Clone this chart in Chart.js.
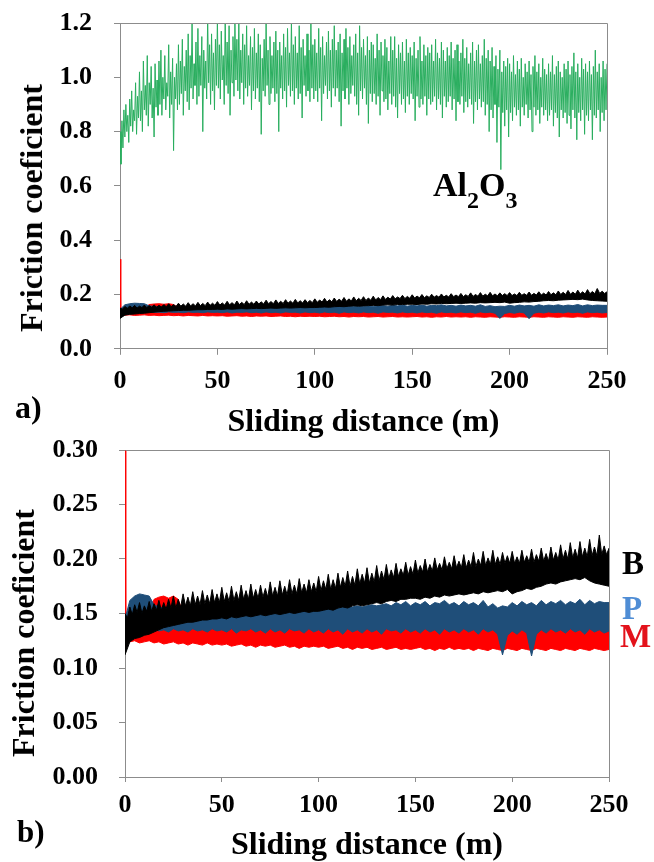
<!DOCTYPE html>
<html>
<head>
<meta charset="utf-8">
<script src="https://cdn.jsdelivr.net/npm/chart.js@4.4.1/dist/chart.umd.min.js"></script>
<style>
html,body{margin:0;padding:0;background:#fff;overflow:hidden;}
body{width:654px;height:862px;position:relative;font-family:"Liberation Serif","Times New Roman",serif;font-weight:bold;color:#000;}
canvas{position:absolute;left:0;}
#chartA{top:0;}
#chartB{top:430px;}
.lbl{position:absolute;line-height:1;white-space:nowrap;}
.ytitle{position:absolute;font-size:32px;line-height:1;white-space:nowrap;transform:translate(-50%,-50%) rotate(-90deg);}
</style>
</head>
<body>
<canvas id="chartA" width="654" height="442"></canvas>
<canvas id="chartB" width="654" height="450"></canvas>

<div class="ytitle" style="left:31px;top:208px;">Friction coeficient</div>
<div class="ytitle" style="left:23px;top:633px;">Friction coeficient</div>
<div class="lbl" style="left:15px;top:391px;font-size:32px;">a)</div>
<div class="lbl" style="left:17px;top:816px;font-size:31px;">b)</div>
<div class="lbl" style="left:433px;top:168px;font-size:34px;">Al<span style="font-size:24px;position:relative;top:12px;">2</span>O<span style="font-size:24px;position:relative;top:12px;">3</span></div>
<div class="lbl" style="left:622px;top:547px;font-size:33px;color:#000;">B</div>
<div class="lbl" style="left:622px;top:592px;font-size:33px;color:#4f8dd5;">P</div>
<div class="lbl" style="left:620px;top:620px;font-size:33px;color:#e3121b;">M</div>

<script>
// sliding distance sampling
const bandStep = 2.5;    // m, for the band edges
const blackTopStep = 1.25; // m, finer for the spiky top of B
const greenStep = 0.5;   // m, for the Al2O3 trace

// B sample (black) – upper edge (one row = 25 m) and lower edge of the band
const blackUpper = [
  0.150,0.146,0.156,0.149,0.158,0.151,0.160,0.150,0.157,0.152,0.161,0.152,0.159,0.153,0.162,0.153,0.160,0.154,0.163,0.155,
  0.166,0.155,0.163,0.156,0.168,0.157,0.165,0.157,0.170,0.158,0.166,0.158,0.171,0.159,0.167,0.159,0.172,0.160,0.168,0.160,
  0.174,0.161,0.169,0.161,0.175,0.162,0.170,0.162,0.176,0.163,0.171,0.163,0.177,0.164,0.172,0.164,0.176,0.165,0.173,0.165,
  0.179,0.166,0.174,0.166,0.180,0.167,0.175,0.167,0.181,0.168,0.176,0.168,0.182,0.169,0.177,0.169,0.181,0.170,0.178,0.170,
  0.184,0.171,0.180,0.172,0.186,0.172,0.181,0.173,0.187,0.174,0.183,0.175,0.189,0.175,0.184,0.176,0.191,0.177,0.186,0.178,
  0.192,0.178,0.187,0.179,0.194,0.180,0.189,0.181,0.195,0.182,0.190,0.183,0.196,0.184,0.191,0.185,0.197,0.185,0.193,0.186,
  0.199,0.187,0.194,0.188,0.200,0.188,0.195,0.189,0.201,0.190,0.196,0.190,0.202,0.191,0.197,0.191,0.203,0.192,0.198,0.192,
  0.204,0.192,0.199,0.193,0.206,0.193,0.200,0.194,0.207,0.194,0.201,0.195,0.208,0.195,0.202,0.195,0.206,0.196,0.203,0.196,
  0.207,0.196,0.202,0.196,0.208,0.197,0.203,0.197,0.209,0.197,0.204,0.198,0.210,0.198,0.205,0.198,0.211,0.199,0.206,0.199,
  0.213,0.200,0.208,0.200,0.215,0.201,0.209,0.201,0.216,0.202,0.210,0.202,0.218,0.203,0.211,0.203,0.222,0.204,0.212,0.204,
  0.210];
const blackLower = [0.112,0.124,0.127,0.128,0.130,0.131,0.133,0.135,0.137,0.138,
  0.139,0.140,0.141,0.142,0.142,0.143,0.144,0.144,0.145,0.145,
  0.146,0.145,0.147,0.146,0.147,0.148,0.147,0.148,0.149,0.148,
  0.149,0.150,0.149,0.150,0.151,0.150,0.151,0.152,0.151,0.152,
  0.152,0.153,0.154,0.153,0.155,0.156,0.155,0.157,0.158,0.157,
  0.158,0.159,0.160,0.159,0.161,0.162,0.161,0.163,0.163,0.164,
  0.164,0.163,0.165,0.164,0.166,0.165,0.167,0.166,0.167,0.168,
  0.167,0.168,0.169,0.168,0.170,0.169,0.170,0.171,0.170,0.172,
  0.168,0.170,0.171,0.173,0.172,0.174,0.175,0.177,0.178,0.177,
  0.179,0.180,0.181,0.182,0.181,0.183,0.180,0.178,0.177,0.176,
  0.175];

// P sample (blue)
const blueUpper = [0.145,0.162,0.166,0.168,0.167,0.166,0.158,0.156,0.155,0.154,
  0.154,0.153,0.153,0.152,0.152,0.151,0.152,0.151,0.152,0.151,
  0.152,0.151,0.152,0.151,0.152,0.152,0.151,0.152,0.153,0.152,
  0.153,0.152,0.153,0.154,0.153,0.154,0.153,0.154,0.155,0.154,
  0.155,0.154,0.155,0.156,0.155,0.156,0.157,0.156,0.157,0.156,
  0.157,0.158,0.157,0.158,0.159,0.157,0.160,0.158,0.161,0.157,
  0.160,0.158,0.161,0.157,0.160,0.159,0.162,0.158,0.160,0.157,
  0.161,0.158,0.160,0.157,0.162,0.156,0.159,0.155,0.157,0.156,
  0.160,0.157,0.161,0.158,0.160,0.157,0.162,0.158,0.161,0.159,
  0.162,0.158,0.161,0.159,0.163,0.158,0.162,0.159,0.161,0.160,
  0.160];
const blueLower = [0.128,0.132,0.134,0.136,0.135,0.134,0.136,0.134,0.135,0.133,
  0.136,0.134,0.135,0.133,0.136,0.134,0.135,0.133,0.136,0.134,
  0.135,0.133,0.136,0.132,0.135,0.134,0.136,0.133,0.135,0.132,
  0.136,0.133,0.135,0.132,0.136,0.134,0.135,0.132,0.136,0.133,
  0.135,0.132,0.136,0.133,0.135,0.131,0.136,0.133,0.135,0.132,
  0.136,0.133,0.135,0.131,0.136,0.134,0.135,0.132,0.136,0.133,
  0.135,0.132,0.136,0.133,0.135,0.131,0.136,0.133,0.135,0.132,
  0.136,0.133,0.135,0.131,0.136,0.133,0.135,0.131,0.112,0.130,
  0.134,0.131,0.135,0.132,0.111,0.131,0.135,0.132,0.136,0.133,
  0.135,0.132,0.136,0.133,0.135,0.131,0.136,0.133,0.135,0.132,
  0.134];

// M sample (red)
const redUpper = [0.130,0.135,0.138,0.137,0.140,0.150,0.163,0.165,0.166,0.164,
  0.166,0.163,0.150,0.140,0.138,0.139,0.137,0.139,0.138,0.140,
  0.139,0.137,0.140,0.138,0.139,0.137,0.140,0.138,0.139,0.137,
  0.140,0.138,0.139,0.137,0.140,0.138,0.139,0.137,0.140,0.138,
  0.139,0.137,0.140,0.138,0.139,0.137,0.140,0.138,0.139,0.137,
  0.140,0.138,0.139,0.137,0.140,0.138,0.139,0.137,0.140,0.138,
  0.139,0.137,0.140,0.138,0.139,0.137,0.140,0.138,0.139,0.137,
  0.140,0.138,0.139,0.137,0.140,0.138,0.139,0.137,0.140,0.138,
  0.139,0.137,0.140,0.138,0.139,0.137,0.140,0.138,0.139,0.137,
  0.140,0.138,0.139,0.137,0.140,0.138,0.139,0.137,0.140,0.138,
  0.139];
const redLower = [0.125,0.124,0.125,0.123,0.124,0.125,0.123,0.124,0.122,0.123,
  0.124,0.122,0.123,0.121,0.123,0.122,0.121,0.123,0.121,0.122,
  0.121,0.122,0.120,0.121,0.122,0.120,0.121,0.119,0.121,0.120,
  0.121,0.119,0.120,0.121,0.119,0.120,0.118,0.120,0.119,0.120,
  0.119,0.120,0.118,0.119,0.120,0.118,0.119,0.117,0.119,0.118,
  0.119,0.117,0.118,0.119,0.117,0.118,0.119,0.117,0.118,0.117,
  0.118,0.119,0.117,0.118,0.116,0.118,0.117,0.119,0.117,0.118,
  0.117,0.118,0.116,0.118,0.117,0.116,0.118,0.117,0.116,0.118,
  0.117,0.116,0.118,0.117,0.116,0.118,0.117,0.116,0.118,0.117,
  0.116,0.118,0.117,0.116,0.118,0.117,0.116,0.118,0.117,0.116,
  0.117];
// start-up peak of M at 0 m
const redSpikeDist = [0, 0.4];
const redSpikeVal = [0.33, 0.13];

// Al2O3 trace (green), one value every 0.5 m (one row = 10 m)
const aluminaVal = [
  0.80,0.68,0.84,0.74,0.88,0.78,0.90,0.80,0.86,0.76,0.92,0.82,0.95,0.80,0.88,0.84,0.98,0.79,0.93,0.85,
  1.02,0.84,0.95,0.80,1.06,0.88,0.97,0.86,1.08,0.82,0.98,0.90,1.04,0.85,0.96,0.78,1.05,0.89,0.99,0.86,
  1.06,0.90,1.10,0.86,1.00,0.92,1.08,0.88,0.98,0.93,1.12,0.85,1.02,0.90,1.07,0.73,1.00,0.92,1.05,0.88,
  1.12,0.90,1.06,0.94,1.14,0.86,1.04,0.95,1.10,0.91,1.16,0.88,1.08,0.96,1.20,0.92,1.05,0.97,1.13,0.90,
  1.18,0.93,1.08,0.97,1.15,0.80,1.10,0.96,1.06,0.92,1.22,0.98,1.12,0.90,1.16,0.95,1.09,0.88,1.14,0.97,
  1.21,0.96,1.12,0.92,1.17,0.99,1.08,0.90,1.22,0.97,1.13,0.94,1.19,0.86,1.10,0.98,1.15,0.93,1.20,0.99,
  1.14,0.95,1.21,0.92,1.10,0.98,1.16,0.90,1.12,0.96,1.19,0.93,1.08,0.97,1.15,0.88,1.11,0.95,1.18,0.92,
  1.09,0.96,1.16,0.91,1.12,0.79,1.07,0.95,1.14,0.93,1.20,0.97,1.10,0.90,1.15,0.94,1.08,0.96,1.13,0.91,
  1.17,0.94,1.10,0.80,1.13,0.96,1.08,0.92,1.16,0.95,1.11,0.89,1.18,0.97,1.09,0.93,1.21,0.95,1.12,0.90,
  1.15,0.96,1.09,0.92,1.19,0.94,1.11,0.85,1.14,0.97,1.08,0.93,1.16,0.95,1.10,0.91,1.20,0.96,1.12,0.92,
  1.14,0.95,1.09,0.91,1.18,0.96,1.11,0.84,1.15,0.94,1.08,0.97,1.13,0.92,1.17,0.95,1.10,0.89,1.14,0.96,
  1.19,0.93,1.10,0.96,1.13,0.91,1.16,0.82,1.09,0.95,1.14,0.92,1.18,0.96,1.11,0.90,1.15,0.94,1.08,0.97,
  1.12,0.93,1.16,0.90,1.09,0.86,1.19,0.95,1.11,0.92,1.14,0.96,1.08,0.90,1.15,0.83,1.10,0.94,1.13,0.91,
  1.12,0.94,1.07,0.90,1.16,0.93,1.10,0.86,1.13,0.95,1.08,0.91,1.14,0.92,1.11,0.88,1.06,0.94,1.15,0.90,
  1.10,0.93,1.15,0.89,1.07,0.85,1.12,0.94,1.09,0.90,1.13,0.92,1.06,0.87,1.14,0.93,1.09,0.90,1.11,0.94,
  1.08,0.92,1.13,0.84,1.07,0.93,1.10,0.89,1.15,0.92,1.06,0.90,1.12,0.93,1.08,0.86,1.11,0.92,1.09,0.90,
  1.12,0.91,1.06,0.93,1.14,0.88,1.09,0.92,1.07,0.90,1.13,0.85,1.10,0.93,1.06,0.89,1.11,0.91,1.08,0.93,
  1.13,0.88,1.07,0.92,1.10,0.84,1.12,0.91,1.06,0.90,1.09,0.93,1.14,0.87,1.07,0.91,1.11,0.89,1.05,0.92,
  1.09,0.90,1.13,0.83,1.06,0.91,1.10,0.88,1.12,0.92,1.05,0.89,1.08,0.91,1.14,0.86,1.07,0.90,1.10,0.80,
  1.06,0.88,1.11,0.85,1.04,0.90,1.08,0.76,1.03,0.89,1.10,0.66,1.02,0.87,1.06,0.82,1.04,0.88,1.07,0.78,
  1.05,0.87,1.02,0.84,1.08,0.89,1.01,0.86,1.06,0.88,1.03,0.82,1.07,0.89,1.00,0.86,1.05,0.90,1.02,0.85,
  1.06,0.88,1.01,0.80,1.04,0.89,1.08,0.86,1.02,0.88,1.05,0.83,1.00,0.89,1.07,0.86,1.03,0.88,1.01,0.84,
  1.05,0.86,1.02,0.88,1.08,0.82,1.01,0.87,1.04,0.85,1.06,0.78,1.02,0.88,1.00,0.85,1.05,0.87,1.03,0.83,
  1.06,0.86,1.01,0.81,1.04,0.88,1.09,0.85,1.02,0.77,1.05,0.87,1.00,0.84,1.07,0.88,1.03,0.79,1.05,0.86,
  1.02,0.84,1.06,0.88,1.01,0.77,1.04,0.86,1.10,0.85,1.02,0.88,1.05,0.80,1.00,0.87,1.06,0.84,1.03,0.88,
  1.05];

const xTicks = [0, 50, 100, 150, 200, 250];
const yTicksA = [0, 0.2, 0.4, 0.6, 0.8, 1.0, 1.2];
const yTicksB = [0, 0.05, 0.10, 0.15, 0.20, 0.25, 0.30];

const FONT = '"Liberation Serif", "Times New Roman", serif';
const AXIS_GREY = '#8c8c8c';
const BLACK = '#000000', BLUE = '#1f4e79', RED = '#ff0000', GREEN = '#2aae5f';

function pts(arr, step) {
  return arr.map((v, i) => ({x: i * step, y: v}));
}

function band(upper, upperStep, lower, color) {
  return [
    {data: pts(upper, upperStep), borderColor: color, backgroundColor: color, fill: '+1'},
    {data: pts(lower, bandStep), borderColor: color, backgroundColor: color, fill: false}
  ];
}

function bandDatasets() {
  // first dataset is drawn on top: B over P over M
  return [
    ...band(blackUpper, blackTopStep, blackLower, BLACK),
    ...band(blueUpper, bandStep, blueLower, BLUE),
    ...band(redUpper, bandStep, redLower, RED),
    {data: redSpikeDist.map((d, i) => ({x: d, y: redSpikeVal[i]})), borderColor: RED, fill: false}
  ];
}

// grey frame on top and right of the plot area
const framePlugin = {
  id: 'frame',
  afterDraw(chart) {
    const a = chart.chartArea, c = chart.ctx;
    c.save();
    c.strokeStyle = AXIS_GREY;
    c.lineWidth = 1;
    c.beginPath();
    c.moveTo(Math.round(a.left) + 0.5, Math.round(a.top) + 0.5);
    c.lineTo(Math.round(a.right) + 0.5, Math.round(a.top) + 0.5);
    c.lineTo(Math.round(a.right) + 0.5, Math.round(a.bottom));
    c.stroke();
    c.restore();
  }
};

function makeChart(id, datasets, opt) {
  return new Chart(document.getElementById(id), {
    type: 'line',
    data: {datasets: datasets},
    plugins: [framePlugin],
    options: {
      responsive: false,
      animation: false,
      layout: {padding: opt.padding},
      elements: {
        point: {radius: 0},
        line: {borderWidth: 1, tension: 0}
      },
      plugins: {legend: {display: false}, tooltip: {enabled: false}},
      scales: {
        x: {
          type: 'linear', min: 0, max: 250,
          afterBuildTicks: s => { s.ticks = xTicks.map(v => ({value: v})); },
          ticks: {color: '#000', padding: opt.xPad, maxRotation: 0,
                  font: {family: FONT, size: 26, weight: 'bold'}},
          grid: {drawOnChartArea: false, tickLength: opt.xTick, color: AXIS_GREY},
          border: {color: AXIS_GREY, width: 1},
          title: {display: true, text: 'Sliding distance (m)', color: '#000',
                  font: {family: FONT, size: 32, weight: 'bold'},
                  padding: {top: opt.titlePad, bottom: 0}}
        },
        y: {
          min: 0, max: opt.yMax,
          afterBuildTicks: s => { s.ticks = opt.yTicks.map(v => ({value: v})); },
          afterFit: s => { s.width = opt.yWidth; s.paddingTop = 0; s.paddingBottom = 0; },
          ticks: {color: '#000', padding: opt.yPad,
                  font: {family: FONT, size: 26, weight: 'bold'},
                  callback: v => v.toFixed(opt.dec)},
          grid: {drawOnChartArea: false, tickLength: 6, color: AXIS_GREY},
          border: {color: AXIS_GREY, width: 1}
        }
      }
    }
  });
}

// a) full range with Al2O3
makeChart('chartA', [
  ...bandDatasets(),
  {data: pts(aluminaVal, greenStep), borderColor: GREEN, fill: false}
], {
  padding: {left: 0, right: 47, top: 23, bottom: 0},
  xPad: 10.4, xTick: 6, titlePad: -3.2,
  yMax: 1.2, yTicks: yTicksA, dec: 1, yWidth: 120, yPad: 22
});

// b) zoom on B, P, M
makeChart('chartB', bandDatasets(), {
  padding: {left: 0, right: 45, top: 20, bottom: 14.8},
  xPad: 7.4, xTick: 5, titlePad: -1.2,
  yMax: 0.30, yTicks: yTicksB, dec: 2, yWidth: 125, yPad: 21
});
</script>
</body>
</html>
